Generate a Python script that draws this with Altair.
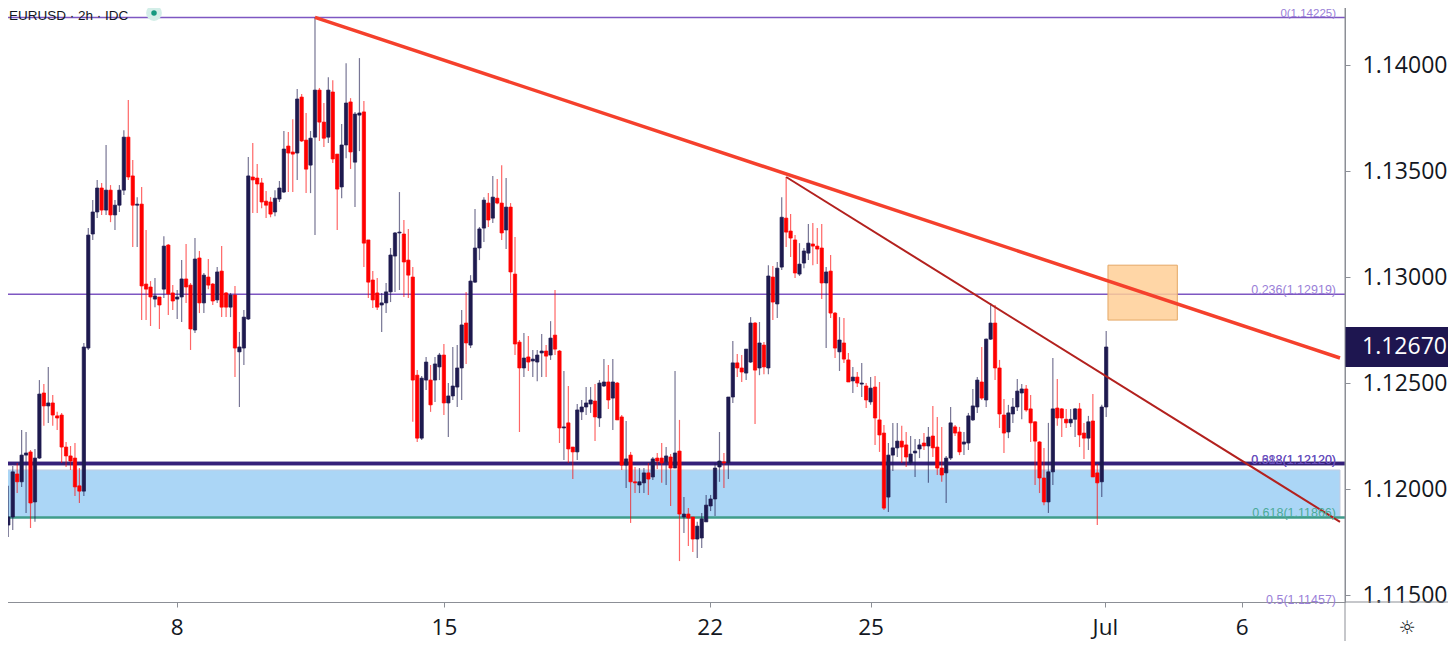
import altair as alt
import pandas as pd
import numpy as np

# ---------------- data (EURUSD, 2h candles) ----------------
opens = [
    1.11830, 1.11868, 1.12071, 1.12034, 1.12160, 1.12175, 1.11939, 1.12146, 1.12453, 1.12392,
    1.12406, 1.12345, 1.12349, 1.12198, 1.12156, 1.12146, 1.12015, 1.11990, 1.12665, 1.13203,
    1.13307, 1.13420, 1.13316, 1.13410, 1.13293, 1.13339, 1.13410, 1.13660, 1.13477, 1.13339,
    1.13344, 1.12967, 1.12953, 1.12896, 1.12906, 1.12943, 1.13151, 1.12925, 1.12896, 1.12906,
    1.12991, 1.12962, 1.12750, 1.13090, 1.12878, 1.13000, 1.12967, 1.12892, 1.13028, 1.12925,
    1.12858, 1.12915, 1.12647, 1.12665, 1.12802, 1.13472, 1.13467, 1.13444, 1.13358, 1.13354,
    1.13307, 1.13368, 1.13401, 1.13618, 1.13590, 1.13585, 1.13849, 1.13646, 1.13528, 1.13660,
    1.13882, 1.13731, 1.13660, 1.13873, 1.13580, 1.13425, 1.13623, 1.13826, 1.13542, 1.13764,
    1.13779, 1.13175, 1.12986, 1.12925, 1.12868, 1.12878, 1.12930, 1.13099, 1.13208, 1.13203,
    1.13080, 1.13000, 1.12537, 1.12240, 1.12514, 1.12514, 1.12514, 1.12576, 1.12632, 1.12406,
    1.12439, 1.12481, 1.12571, 1.12783, 1.12679, 1.12976, 1.13137, 1.13231, 1.13349, 1.13278,
    1.13372, 1.13349, 1.13222, 1.13330, 1.13014, 1.12693, 1.12571, 1.12623, 1.12604, 1.12599,
    1.12642, 1.12651, 1.12632, 1.12726, 1.12651, 1.12288, 1.12312, 1.12198, 1.12175, 1.12364,
    1.12387, 1.12401, 1.12415, 1.12335, 1.12486, 1.12505, 1.12429, 1.12500, 1.12340, 1.12113,
    1.12160, 1.12034, 1.12019, 1.12029, 1.12076, 1.12057, 1.12146, 1.12146, 1.12128, 1.12151,
    1.12099, 1.12179, 1.11868, 1.11882, 1.11868, 1.11764, 1.11769, 1.11845, 1.11920, 1.11953,
    1.12104, 1.12128, 1.12123, 1.12434, 1.12595, 1.12571, 1.12547, 1.12599, 1.12783, 1.12571,
    1.12679, 1.12571, 1.13000, 1.12873, 1.13047, 1.13278, 1.13217, 1.13175, 1.13014, 1.13066,
    1.13113, 1.13156, 1.13146, 1.13137, 1.12972, 1.13028, 1.12830, 1.12647, 1.12689, 1.12609,
    1.12510, 1.12528, 1.12495, 1.12486, 1.12411, 1.12481, 1.12326, 1.12264, 1.11962, 1.12160,
    1.12194, 1.12226, 1.12208, 1.12123, 1.12170, 1.12189, 1.12217, 1.12203, 1.12250, 1.12198,
    1.12099, 1.12076, 1.12146, 1.12293, 1.12269, 1.12212, 1.12217, 1.12326, 1.12387, 1.12505,
    1.12420, 1.12707, 1.12783, 1.12571, 1.12349, 1.12269, 1.12354, 1.12387, 1.12453, 1.12472,
    1.12378, 1.12317, 1.12222, 1.12052, 1.11939, 1.12081, 1.12382, 1.12378, 1.12329, 1.12312,
    1.12329, 1.12378, 1.12264, 1.12240, 1.12321, 1.12076, 1.12034, 1.12387,
]
highs = [
    1.12015, 1.12109, 1.12123, 1.12278, 1.12269, 1.12184, 1.12189, 1.12514, 1.12495, 1.12576,
    1.12443, 1.12364, 1.12359, 1.12222, 1.12203, 1.12217, 1.12099, 1.12689, 1.13231, 1.13363,
    1.13458, 1.13444, 1.13623, 1.13434, 1.13363, 1.13434, 1.13693, 1.13835, 1.13552, 1.13377,
    1.13425, 1.13222, 1.12981, 1.12995, 1.12906, 1.13193, 1.13156, 1.12962, 1.12939, 1.13080,
    1.13156, 1.12972, 1.13184, 1.13123, 1.13019, 1.13085, 1.12972, 1.13047, 1.13146, 1.12930,
    1.12925, 1.12958, 1.12741, 1.12844, 1.13566, 1.13632, 1.13533, 1.13467, 1.13406, 1.13377,
    1.13410, 1.13453, 1.13689, 1.13684, 1.13745, 1.13887, 1.13863, 1.13774, 1.13689, 1.14225,
    1.13892, 1.13821, 1.13943, 1.13929, 1.13580, 1.13722, 1.14009, 1.13844, 1.13779, 1.14033,
    1.13830, 1.13175, 1.13028, 1.12995, 1.12925, 1.12972, 1.13137, 1.13212, 1.13401, 1.13269,
    1.13227, 1.13047, 1.12561, 1.12533, 1.12623, 1.12585, 1.12623, 1.12642, 1.12684, 1.12500,
    1.12670, 1.12679, 1.12844, 1.12930, 1.13009, 1.13321, 1.13236, 1.13377, 1.13396, 1.13477,
    1.13462, 1.13528, 1.13467, 1.13349, 1.13189, 1.12703, 1.12736, 1.12722, 1.12656, 1.12656,
    1.12731, 1.12679, 1.12792, 1.12939, 1.12656, 1.12557, 1.12486, 1.12198, 1.12401, 1.12420,
    1.12481, 1.12481, 1.12495, 1.12514, 1.12613, 1.12585, 1.12613, 1.12505, 1.12349, 1.12321,
    1.12175, 1.12104, 1.12099, 1.12099, 1.12123, 1.12151, 1.12170, 1.12217, 1.12198, 1.12165,
    1.12557, 1.12326, 1.11962, 1.11910, 1.11868, 1.11845, 1.11887, 1.11972, 1.11972, 1.12123,
    1.12269, 1.12170, 1.12434, 1.12698, 1.12637, 1.12632, 1.12660, 1.12811, 1.12788, 1.12788,
    1.12693, 1.13056, 1.13052, 1.13071, 1.13377, 1.13472, 1.13297, 1.13198, 1.13160, 1.13137,
    1.13250, 1.13255, 1.13231, 1.13250, 1.13047, 1.13104, 1.12835, 1.12811, 1.12807, 1.12642,
    1.12576, 1.12552, 1.12595, 1.12500, 1.12528, 1.12533, 1.12505, 1.12302, 1.12217, 1.12312,
    1.12312, 1.12298, 1.12269, 1.12250, 1.12236, 1.12236, 1.12264, 1.12293, 1.12392, 1.12340,
    1.12293, 1.12156, 1.12387, 1.12302, 1.12293, 1.12269, 1.12359, 1.12472, 1.12528, 1.12670,
    1.12710, 1.12878, 1.12868, 1.12609, 1.12425, 1.12397, 1.12429, 1.12519, 1.12495, 1.12491,
    1.12443, 1.12320, 1.12226, 1.12194, 1.12312, 1.12618, 1.12519, 1.12382, 1.12378, 1.12378,
    1.12382, 1.12406, 1.12312, 1.12345, 1.12448, 1.12118, 1.12397, 1.12746,
]
lows = [
    1.11774, 1.11807, 1.11981, 1.12010, 1.11887, 1.11816, 1.11845, 1.12142, 1.12298, 1.12312,
    1.12298, 1.12278, 1.12123, 1.12104, 1.12090, 1.11967, 1.11934, 1.11967, 1.12656, 1.13175,
    1.13278, 1.13293, 1.13293, 1.13259, 1.13222, 1.13307, 1.13387, 1.13458, 1.13142, 1.13142,
    1.12797, 1.12797, 1.12769, 1.12858, 1.12755, 1.12901, 1.12821, 1.12844, 1.12802, 1.12788,
    1.12878, 1.12656, 1.12736, 1.12830, 1.12830, 1.12943, 1.12868, 1.12878, 1.12811, 1.12811,
    1.12811, 1.12528, 1.12387, 1.12585, 1.12797, 1.13302, 1.13302, 1.13325, 1.13278, 1.13282,
    1.13287, 1.13354, 1.13396, 1.13401, 1.13401, 1.13458, 1.13637, 1.13396, 1.13396, 1.13198,
    1.13642, 1.13613, 1.13632, 1.13538, 1.13222, 1.13372, 1.13561, 1.13510, 1.13330, 1.13594,
    1.13047, 1.12901, 1.12854, 1.12844, 1.12741, 1.12830, 1.12882, 1.12930, 1.12939, 1.12906,
    1.12901, 1.12317, 1.12222, 1.12231, 1.12467, 1.12364, 1.12411, 1.12514, 1.12349, 1.12245,
    1.12420, 1.12387, 1.12420, 1.12590, 1.12665, 1.12972, 1.13080, 1.13165, 1.13236, 1.13255,
    1.13344, 1.13175, 1.13132, 1.12925, 1.12632, 1.12269, 1.12528, 1.12557, 1.12528, 1.12509,
    1.12528, 1.12528, 1.12609, 1.12632, 1.12217, 1.12137, 1.12123, 1.12047, 1.12137, 1.12326,
    1.12349, 1.12359, 1.12226, 1.12293, 1.12481, 1.12378, 1.12278, 1.12326, 1.12090, 1.12005,
    1.11840, 1.11981, 1.11981, 1.11981, 1.11972, 1.12043, 1.12094, 1.12029, 1.12019, 1.11920,
    1.12099, 1.11660, 1.11792, 1.11731, 1.11703, 1.11674, 1.11722, 1.11845, 1.11896, 1.11873,
    1.12034, 1.12005, 1.12047, 1.12406, 1.12528, 1.12505, 1.12514, 1.12595, 1.12307, 1.12537,
    1.12542, 1.12542, 1.12797, 1.12807, 1.13033, 1.13142, 1.13094, 1.12995, 1.13005, 1.13042,
    1.13080, 1.13056, 1.13061, 1.12896, 1.12665, 1.12807, 1.12618, 1.12557, 1.12595, 1.12505,
    1.12453, 1.12481, 1.12434, 1.12382, 1.12397, 1.12208, 1.12175, 1.11901, 1.11892, 1.12085,
    1.12151, 1.12123, 1.12104, 1.12113, 1.12057, 1.12146, 1.12184, 1.12029, 1.12151, 1.12066,
    1.12034, 1.11934, 1.12137, 1.12250, 1.12160, 1.12160, 1.12184, 1.12321, 1.12359, 1.12420,
    1.12387, 1.12703, 1.12514, 1.12288, 1.12170, 1.12240, 1.12312, 1.12368, 1.12329, 1.12364,
    1.12222, 1.12019, 1.11981, 1.11924, 1.11887, 1.12019, 1.12298, 1.12245, 1.12288, 1.12293,
    1.12245, 1.12198, 1.12142, 1.12184, 1.12057, 1.11830, 1.11962, 1.12340,
]
closes = [
    1.11868, 1.12081, 1.12034, 1.12160, 1.12170, 1.11934, 1.12146, 1.12448, 1.12392, 1.12406,
    1.12349, 1.12335, 1.12198, 1.12156, 1.12132, 1.12010, 1.11990, 1.12670, 1.13198, 1.13307,
    1.13420, 1.13316, 1.13410, 1.13293, 1.13339, 1.13410, 1.13660, 1.13472, 1.13339, 1.13344,
    1.12958, 1.12943, 1.12906, 1.12911, 1.12868, 1.13146, 1.12920, 1.12887, 1.12906, 1.12991,
    1.12953, 1.12755, 1.13085, 1.12878, 1.13009, 1.12962, 1.12887, 1.13024, 1.12858, 1.12858,
    1.12915, 1.12665, 1.12670, 1.12811, 1.13477, 1.13458, 1.13439, 1.13354, 1.13339, 1.13297,
    1.13372, 1.13420, 1.13604, 1.13585, 1.13580, 1.13840, 1.13642, 1.13509, 1.13655, 1.13882,
    1.13731, 1.13655, 1.13882, 1.13557, 1.13415, 1.13623, 1.13821, 1.13590, 1.13769, 1.13774,
    1.13160, 1.12976, 1.12892, 1.12858, 1.12878, 1.12930, 1.13104, 1.13208, 1.13212, 1.13071,
    1.13009, 1.12514, 1.12240, 1.12523, 1.12599, 1.12397, 1.12590, 1.12632, 1.12406, 1.12439,
    1.12486, 1.12571, 1.12774, 1.12689, 1.12981, 1.13137, 1.13227, 1.13363, 1.13269, 1.13377,
    1.13349, 1.13208, 1.13330, 1.13024, 1.12684, 1.12571, 1.12618, 1.12599, 1.12613, 1.12632,
    1.12651, 1.12627, 1.12712, 1.12660, 1.12288, 1.12293, 1.12189, 1.12175, 1.12373, 1.12387,
    1.12406, 1.12420, 1.12340, 1.12500, 1.12505, 1.12420, 1.12505, 1.12326, 1.12113, 1.12142,
    1.12034, 1.12029, 1.12034, 1.12076, 1.12047, 1.12142, 1.12132, 1.12123, 1.12156, 1.12099,
    1.12170, 1.11882, 1.11882, 1.11863, 1.11764, 1.11825, 1.11859, 1.11924, 1.11953, 1.12099,
    1.12132, 1.12123, 1.12434, 1.12595, 1.12571, 1.12552, 1.12660, 1.12783, 1.12561, 1.12689,
    1.12576, 1.13005, 1.12882, 1.13042, 1.13282, 1.13212, 1.13184, 1.13019, 1.13061, 1.13123,
    1.13160, 1.13146, 1.13132, 1.12972, 1.13024, 1.12830, 1.12665, 1.12703, 1.12613, 1.12505,
    1.12528, 1.12500, 1.12500, 1.12420, 1.12476, 1.12335, 1.12255, 1.11910, 1.12160, 1.12194,
    1.12226, 1.12198, 1.12151, 1.12165, 1.12179, 1.12208, 1.12203, 1.12245, 1.12194, 1.12099,
    1.12066, 1.12146, 1.12312, 1.12264, 1.12175, 1.12222, 1.12345, 1.12392, 1.12514, 1.12429,
    1.12707, 1.12783, 1.12571, 1.12354, 1.12264, 1.12359, 1.12387, 1.12462, 1.12472, 1.12373,
    1.12312, 1.12226, 1.12052, 1.11939, 1.12081, 1.12378, 1.12335, 1.12335, 1.12312, 1.12329,
    1.12378, 1.12255, 1.12240, 1.12317, 1.12057, 1.12029, 1.12387, 1.12670,
]

day_tick_index = [37.9, 98.0, 157.8, 194.0, 246.7, 277.5]
day_tick_label = ["8", "15", "22", "25", "Jul", "6"]
price_tick_values = [1.115, 1.120, 1.125, 1.130, 1.135, 1.140]

fib_prices = [1.14225, 1.12919, 1.12120, 1.12120, 1.11866, 1.11457]
fib_texts = ["0(1.14225)", "0.236(1.12919)", "0.382(1.12120)", "0.618(1.12120)",
             "0.618(1.11866)", "0.5(1.11457)"]

zone_prices = [1.11866, 1.12090]
box_index = [247.4, 263.0]
box_prices = [1.12797, 1.13056]
trend_major_index = [69, 299.6]
trend_major_price = [1.14225, 1.12618]
trend_minor_index = [175, 299.6]
trend_minor_price = [1.13472, 1.11845]

chart_title = "EURUSD · 2h · IDC"

# ---------------- styling ----------------
UP = "#1e1a4f"
DOWN = "#ff0000"
FONT = "Open Sans"
SMALL_FONT = "Liberation Sans"
AXIS_GRAY = "#8c8f96"
X_DOMAIN = [-0.74, 299.6]
Y_DOMAIN = [1.11467, 1.14307]
W, H = 1345, 602
RIGHT_EDGE = 1448

fib_line_colors = ["#7e57c2", "#7e57c2", "#35207a", "#35207a", "#3f9c8b", "#9575cd"]
fib_line_widths = [1.5, 1.5, 3.5, 3.5, 2.5, 1.5]
fib_text_colors = ["#9a80d8", "#9a80d8", "#6a4fbd", "#6a4fbd", "#4bab98", "#9a80d8"]
fib_text_dy = [1.1, -1.5, -1.5, -1.5, -1.5, -1.5]
fib_text_size = [11.5, 12.5, 12.5, 12.5, 12.5, 12.5]

xs = alt.Scale(domain=X_DOMAIN, nice=False, zero=False)
ys = alt.Scale(domain=Y_DOMAIN, nice=False, zero=False)

n = len(closes)
df = pd.DataFrame({"i": np.arange(n), "o": opens, "h": highs, "l": lows, "c": closes})
df["hi"] = df[["h", "o", "c"]].max(axis=1)
df["lo"] = df[["l", "o", "c"]].min(axis=1)
df["dir"] = np.where(df["c"] >= df["o"], "up", "down")

dir_color = alt.Color("dir:N", scale=alt.Scale(domain=["up", "down"], range=[UP, DOWN]), legend=None)
dir_stroke = alt.Stroke("dir:N", scale=alt.Scale(domain=["up", "down"], range=[UP, DOWN]), legend=None)

x_label_expr = "''"
for p, t in zip(day_tick_index, day_tick_label):
    x_label_expr = f"abs(datum.value - {p}) < 0.01 ? '{t}' : " + x_label_expr

x_axis = alt.Axis(
    values=day_tick_index, labelExpr=x_label_expr, title=None, grid=False,
    labelFont=FONT, labelFontSize=22.5, labelColor="#131722", labelBaseline="alphabetic",
    labelFontWeight={"condition": {"test": "datum.label == 'Jul'", "value": "bold"}, "value": "normal"},
    tickSize=5, tickColor=AXIS_GRAY, domainColor=AXIS_GRAY, labelPadding=27,
    labelOverlap=False, labelFlush=False,
)
y_axis = alt.Axis(
    orient="right", values=price_tick_values, format=".5f", title=None, grid=False,
    labelFont=FONT, labelFontSize=23, labelColor="#131722",
    tickSize=5, tickColor=AXIS_GRAY, domainColor=AXIS_GRAY, labelPadding=12,
    labelOverlap=False,
)


def X(field, **kw):
    return alt.X(field, scale=xs, axis=x_axis, **kw)


def Y(field, **kw):
    return alt.Y(field, scale=ys, axis=y_axis, **kw)


# blue support zone
zone = alt.Chart(pd.DataFrame({"lo": [zone_prices[0]], "hi": [zone_prices[1]],
                               "a": [X_DOMAIN[0]], "b": [X_DOMAIN[1]]})).mark_rect(
    fill="#abd6f6", stroke="#c4cde2", strokeWidth=1, clip=True
).encode(x=X("a:Q"), x2="b:Q", y=Y("lo:Q"), y2="hi:Q")

fib_df = pd.DataFrame({"p": fib_prices, "t": fib_texts, "lc": fib_line_colors,
                       "lw": fib_line_widths, "tc": fib_text_colors,
                       "dy": fib_text_dy, "fs": fib_text_size})
fib_lines = alt.Chart(fib_df).mark_rule(clip=True).encode(
    y=Y("p:Q"),
    color=alt.Color("lc:N", scale=None),
    strokeWidth=alt.StrokeWidth("lw:Q", scale=None),
)
fib_labels = alt.Chart(fib_df).mark_text(
    align="right", baseline="alphabetic", font=SMALL_FONT
).encode(
    x=alt.value(1336),
    y=Y("p:Q"),
    yOffset=alt.YOffset("dy:Q", scale=None),
    size=alt.Size("fs:Q", scale=None),
    text="t:N",
    color=alt.Color("tc:N", scale=None),
)

wicks = alt.Chart(df).mark_rule(strokeWidth=1.2, opacity=0.6, clip=True).encode(
    x=X("i:Q"), y=Y("lo:Q"), y2="hi:Q", color=dir_color,
)
bodies = alt.Chart(df).mark_bar(size=3.3, strokeWidth=0.7, clip=True).encode(
    x=X("i:Q"), y=Y("o:Q"), y2="c:Q", color=dir_color, stroke=dir_stroke,
)

box = alt.Chart(pd.DataFrame({"x1": [box_index[0]], "x2": [box_index[1]],
                              "y1": [box_prices[0]], "y2": [box_prices[1]]})).mark_rect(
    fill="#ffcf96", fillOpacity=0.85, stroke="#e4a764", strokeWidth=1, clip=True
).encode(x=X("x1:Q"), x2="x2:Q", y=Y("y1:Q"), y2="y2:Q")

trend_major = alt.Chart(pd.DataFrame({"i": trend_major_index, "p": trend_major_price})).mark_line(
    color="#f5402c", strokeWidth=3.5, clip=True
).encode(x=X("i:Q"), y=Y("p:Q"))
trend_minor = alt.Chart(pd.DataFrame({"i": trend_minor_index, "p": trend_minor_price})).mark_line(
    color="#b3211e", strokeWidth=2, clip=True
).encode(x=X("i:Q"), y=Y("p:Q"))

last_df = pd.DataFrame({"p": [closes[-1]], "t": [f"{closes[-1]:.5f}"]})
price_box = alt.Chart(last_df).mark_rule(color="#1e1650", strokeWidth=40, strokeCap="butt").encode(
    x=alt.value(W), x2=alt.value(RIGHT_EDGE), y=Y("p:Q")
)
price_text = alt.Chart(last_df).mark_text(
    align="left", baseline="middle", font=FONT, fontSize=23, color="white"
).encode(x=alt.value(1362), y=Y("p:Q"), text="t:N")

one = pd.DataFrame({"k": [0]})
frame_v = alt.Chart(one).mark_rule(color=AXIS_GRAY, strokeWidth=1).encode(
    x=alt.value(W), y=alt.value(0), y2=alt.value(650))
frame_h = alt.Chart(one).mark_rule(color=AXIS_GRAY, strokeWidth=1).encode(
    x=alt.value(W), x2=alt.value(RIGHT_EDGE), y=alt.value(H))

title = alt.Chart(pd.DataFrame({"t": [chart_title]})).mark_text(
    align="left", baseline="alphabetic", font=SMALL_FONT, fontSize=13.5, color="#131722"
).encode(x=alt.value(9), y=alt.value(20.4), text="t:N")
halo = alt.Chart(one).mark_circle(size=250, color="#d3eee8", opacity=1).encode(
    x=alt.value(154), y=alt.value(13))
dot = alt.Chart(one).mark_circle(size=30, color="#14997f", opacity=1).encode(
    x=alt.value(154), y=alt.value(13))
gear = alt.Chart(pd.DataFrame({"t": ["☼"]})).mark_text(
    align="center", baseline="middle", font="DejaVu Sans", fontSize=19, color="#131722"
).encode(x=alt.value(1407), y=alt.value(628), text="t:N")

chart = alt.layer(
    zone, fib_lines, wicks, bodies, box, trend_major, trend_minor, fib_labels,
    price_box, price_text, frame_v, frame_h, halo, dot, title, gear,
).properties(
    width=W, height=H,
    autosize=alt.AutoSizeParams(type="none"),
    padding={"left": -8, "top": -8, "right": RIGHT_EDGE - W, "bottom": 39},
    background="white",
).configure_view(stroke=None)

chart.save("out.html", embed_options={"renderer": "svg", "actions": False})
